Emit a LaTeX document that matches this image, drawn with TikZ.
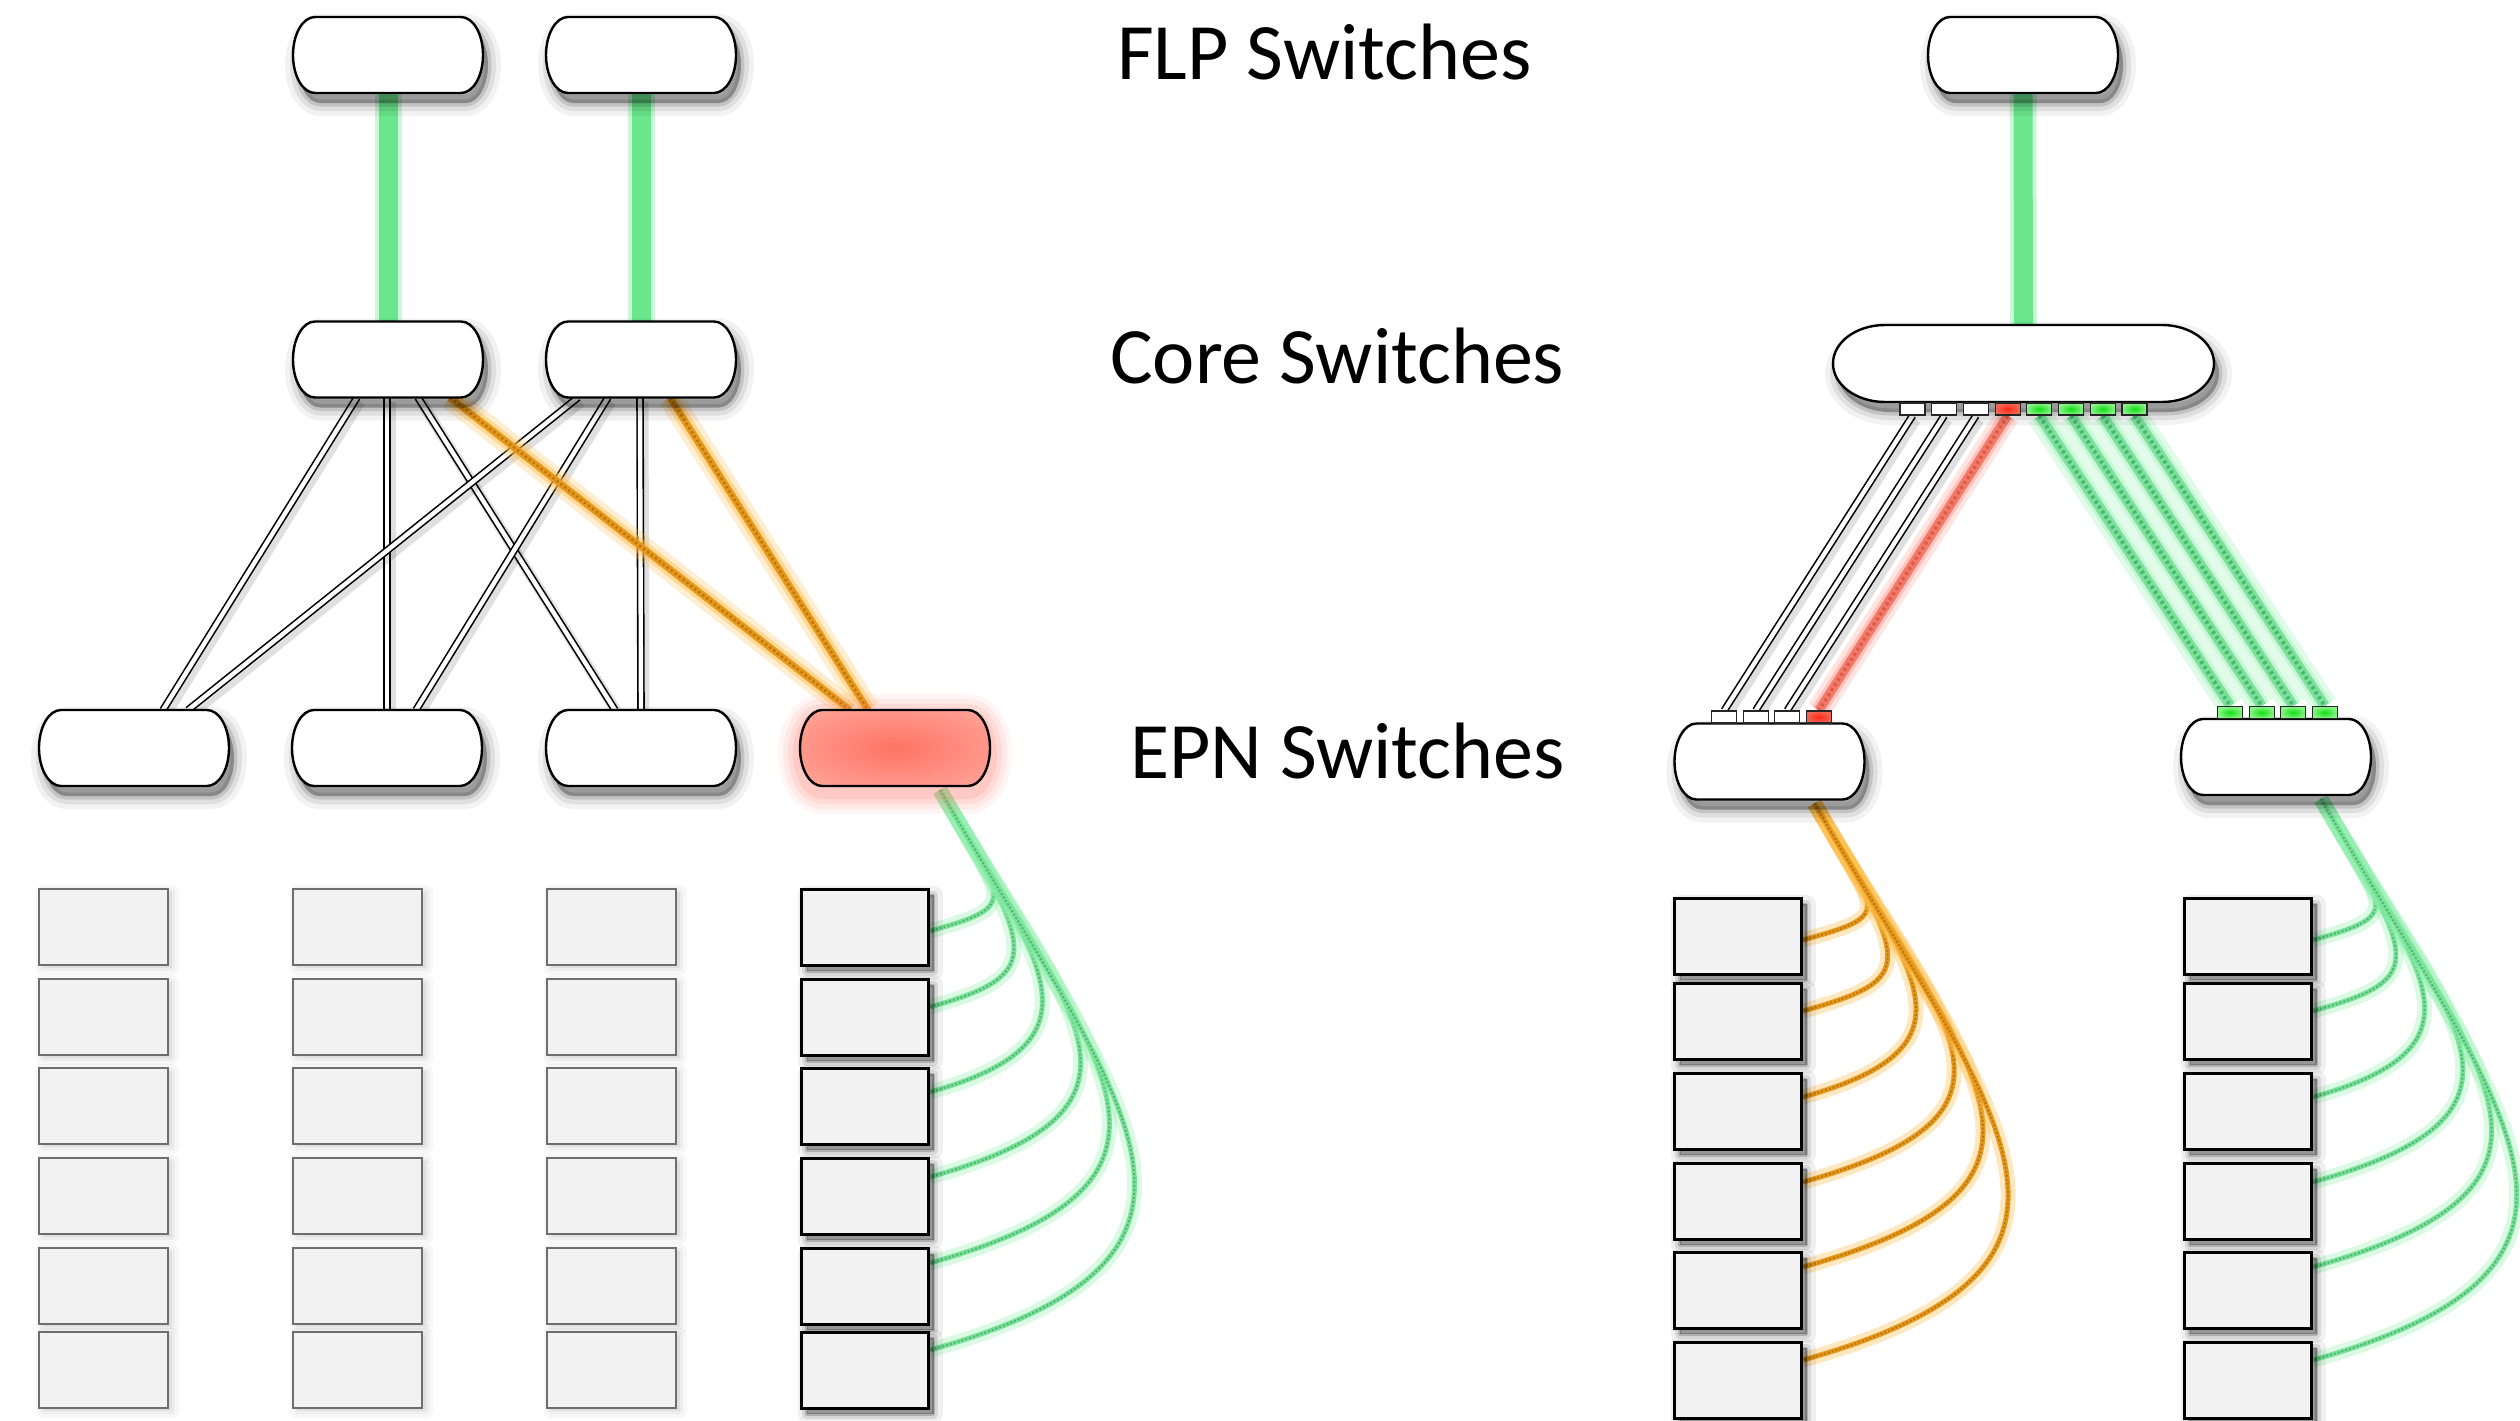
\documentclass[tikz,border=0pt]{standalone}
\usepackage{fontspec}
\setmainfont{Carlito}
\usetikzlibrary{calc}

\definecolor{uplink}{HTML}{6AE68C}
\definecolor{uplinkglow}{HTML}{A8F4BE}
\definecolor{orcore}{HTML}{E8981C}
\definecolor{ordark}{HTML}{B8780A}
\definecolor{orglow}{HTML}{FFBE4A}
\definecolor{gncore}{HTML}{7EE09C}
\definecolor{gndark}{HTML}{44BC6C}
\definecolor{gnglow}{HTML}{8AF0A8}
\definecolor{rdcore}{HTML}{F27A6A}
\definecolor{rddark}{HTML}{E05A48}
\definecolor{rdglow}{HTML}{FF7A6C}
\definecolor{srvfill}{HTML}{F2F2F2}
\definecolor{srvedge}{HTML}{6E6E6E}
\definecolor{epnhot}{HTML}{FF7464}
\definecolor{epnwarm}{HTML}{FFBAB2}
\definecolor{portgreen}{HTML}{10E010}
\definecolor{portgreenrim}{HTML}{8AF28A}
\definecolor{portred}{HTML}{FF2A12}
\definecolor{portredrim}{HTML}{F06858}

\pgfdeclarelayer{links}
\pgfdeclarelayer{top}
\pgfsetlayers{links,main,top}

\pgfdeclareradialshading{hotspot}{\pgfpoint{0bp}{0bp}}{color(0bp)=(epnhot); color(50bp)=(epnwarm)}

% switch outline with elliptic ends, drawn around a placeholder node
\newcommand\pill[3]{($(#1.north west)+(#2,0)$) -- ($(#1.north east)+(-#2,0)$)
  arc[start angle=-90, end angle=90, x radius=#2, y radius=#3]
  -- ($(#1.south west)+(#2,0)$)
  arc[start angle=90, end angle=270, x radius=#2, y radius=#3] -- cycle}

% bundle of cables from a switch to the six servers below it
\newcommand\fanout[3]{%
  \foreach \k/\a/\b/\dy in {1/129/92/4, 2/185/118/-10, 3/195/185/-14, 4/254/254/-19, 5/309/302/-23, 6/359/343/-20}{
    \draw[#3] (#1) .. controls +(0.5*\a, 0.87*\a) and +(\b, -0.28*\b) .. ($(#2\k.east)+(0,\dy)$);
  }}

\tikzset{
  hub/.style={rectangle, inner sep=0pt, outer sep=0pt, minimum width=190pt, minimum height=76pt},
  bighub/.style={hub, minimum width=381pt, minimum height=77pt},
  pillfill/.style={fill=white, draw=black, line width=2.4pt},
  pillshadow/.style={
    preaction={draw=black, draw opacity=0.05, line width=26pt, line join=round, transform canvas={xshift=5pt, yshift=-10pt}},
    preaction={draw=black, draw opacity=0.08, line width=16pt, line join=round, transform canvas={xshift=5pt, yshift=-10pt}},
    preaction={draw=black, draw opacity=0.12, line width=7pt, line join=round, transform canvas={xshift=5pt, yshift=-10pt}},
    preaction={fill=black, fill opacity=0.3, transform canvas={xshift=5pt, yshift=-10pt}}},
  lightshade/.style={
    preaction={draw=black, draw opacity=0.03, line width=14pt, line join=round, transform canvas={xshift=4pt, yshift=-3pt}},
    preaction={draw=black, draw opacity=0.04, line width=6pt, line join=round, fill=black, fill opacity=0.05, transform canvas={xshift=4pt, yshift=-3pt}}},
  darkshade/.style={
    preaction={draw=black, draw opacity=0.06, line width=18pt, line join=round, transform canvas={xshift=5pt, yshift=-6pt}},
    preaction={draw=black, draw opacity=0.10, line width=9pt, line join=round, transform canvas={xshift=5pt, yshift=-6pt}},
    preaction={draw=black, draw opacity=0.18, line width=3pt, line join=round, fill=black, fill opacity=0.3, transform canvas={xshift=5pt, yshift=-6pt}}},
  srvlight/.style={rectangle, inner sep=0pt, minimum width=129pt, minimum height=76pt, fill=srvfill, draw=srvedge, line width=2pt, lightshade},
  srvdark/.style={rectangle, inner sep=0pt, minimum width=127pt, minimum height=76pt, fill=srvfill, draw=black, line width=3pt, darkshade},
  port/.style={rectangle, inner sep=0pt, minimum width=25pt, minimum height=12pt, draw=black!85, line width=1.2pt},
  whiteport/.style={port, fill=white},
  redport/.style={port, inner color=portred, outer color=portredrim},
  greenport/.style={port, inner color=portgreen, outer color=portgreenrim},
  lbl/.style={font=\fontsize{80pt}{96pt}\selectfont, inner sep=0pt},
  dbl/.style={draw=black, line width=1.6pt, double=white, double distance=4.4pt,
    preaction={draw=black, draw opacity=0.12, line width=11pt, transform canvas={xshift=3pt, yshift=-4pt}}},
  uplinkstyle/.style={preaction={draw=uplinkglow, draw opacity=0.6, line width=27pt}, draw=uplink, line width=19pt},
  orangelink/.style={preaction={draw=orglow, draw opacity=0.25, line width=24pt},
    preaction={draw=orglow, draw opacity=0.45, line width=14pt},
    draw=orcore, line width=7pt,
    postaction={draw=ordark, line width=2.5pt, dash pattern=on 2.5pt off 2.5pt}},
  greenlink/.style={preaction={draw=gnglow, draw opacity=0.25, line width=26pt},
    preaction={draw=gnglow, draw opacity=0.3, line width=16pt},
    draw=gncore, line width=10pt,
    postaction={draw=gndark, line width=4pt, dash pattern=on 3pt off 3pt}},
  redlink/.style={preaction={draw=rdglow, draw opacity=0.2, line width=24pt},
    preaction={draw=rdglow, draw opacity=0.3, line width=15pt},
    draw=rdcore, line width=9pt,
    postaction={draw=rddark, line width=3.5pt, dash pattern=on 3pt off 3pt}},
  greenfan/.style={preaction={draw=gnglow, draw opacity=0.3, line width=15pt},
    draw=gncore, line width=5pt,
    postaction={draw=gndark, line width=2pt, dash pattern=on 2pt off 2pt}},
  orangefan/.style={preaction={draw=orglow, draw opacity=0.35, line width=15pt},
    draw=orcore, line width=5pt,
    postaction={draw=ordark, line width=2pt, dash pattern=on 2pt off 2pt}},
}

\begin{document}
\begin{tikzpicture}[x=1pt, y=-1pt]
\useasboundingbox (0,0) rectangle (2520,1421);
\begin{pgfonlayer}{links}
  \fill[white] (0,0) rectangle (2520,1421);
\end{pgfonlayer}

% ---- switch placeholders ----
\node[hub] (flp1) at (388,55) {};
\node[hub] (flp2) at (641,55) {};
\node[hub] (flp3) at (2023,55) {};
\node[hub] (core1) at (388,359.5) {};
\node[hub] (core2) at (641,359.5) {};
\node[bighub] (core3) at (2023.5,363.5) {};
\node[hub] (epn1) at (134,748) {};
\node[hub] (epn2) at (387,748) {};
\node[hub] (epn3) at (641,748) {};
\node[hub] (epn4) at (895,748) {};
\node[hub] (epn5) at (1769.5,761.5) {};
\node[hub] (epn6) at (2276,757) {};

\coordinate (epn4out) at ($(epn4.south west)+(140,4)$);
\coordinate (epn5out) at ($(epn5.south west)+(140,4)$);
\coordinate (epn6out) at ($(epn6.south west)+(140,4)$);

% ---- ports ----
\begin{pgfonlayer}{top}
  \foreach \i in {1,2,3} \node[whiteport] (cp\i) at ({2023.5+(\i-4.5)*31.7},409) {};
  \node[redport] (cp4) at ({2023.5+(4-4.5)*31.7},409) {};
  \foreach \i in {5,...,8} \node[greenport] (cp\i) at ({2023.5+(\i-4.5)*31.7},409) {};
  \foreach \i in {1,2,3} \node[whiteport] (ep\i) at ({1771.5+(\i-2.5)*31.5},717) {};
  \node[redport] (ep4) at ({1771.5+(4-2.5)*31.5},717) {};
  \foreach \i in {1,...,4} \node[greenport] (gp\i) at ({2277.5+(\i-2.5)*31.5},712.5) {};
\end{pgfonlayer}

% ---- servers ----
\foreach \c/\x in {1/103, 2/357.5, 3/611}
  \foreach \r/\y in {1/927, 2/1017, 3/1106, 4/1196, 5/1286, 6/1370}
    \node[srvlight] (s\c-\r) at (\x,\y) {};
\foreach \r/\y in {1/927, 2/1017, 3/1106, 4/1196, 5/1286, 6/1370}
  \node[srvdark] (s4-\r) at (865,\y) {};
\foreach \r/\y in {1/936, 2/1021, 3/1111, 4/1201, 5/1290, 6/1380}{
  \node[srvdark] (sa-\r) at (1738,\y) {};
  \node[srvdark] (sb-\r) at (2248,\y) {};
}

% ---- cables ----
\begin{pgfonlayer}{links}
  \draw[uplinkstyle] (flp1.south) -- (core1.north);
  \draw[uplinkstyle] (flp2.south) -- (core2.north);
  \draw[uplinkstyle] (flp3.south) -- (core3.north);

  \draw[dbl] ($(core1.south)+(-31,0)$) -- ($(epn1.north)+(29,0)$);
  \draw[dbl] ($(core1.south)+(-1,0)$) -- (epn2.north);
  \draw[dbl] ($(core1.south)+(30,0)$) -- ($(epn3.north)+(-26,0)$);
  \draw[dbl] ($(core2.south)+(-63,0)$) -- ($(epn1.north)+(54,0)$);
  \draw[dbl] ($(core2.south)+(-33,0)$) -- ($(epn2.north)+(29,0)$);
  \draw[dbl] ($(core2.south)+(-1,0)$) -- (epn3.north);
  \draw[orangelink] ($(core1.south)+(62,0)$) -- ($(epn4.north)+(-45,0)$);
  \draw[orangelink] ($(core2.south)+(29,0)$) -- ($(epn4.north)+(-27,0)$);

  \foreach \i in {1,2,3} \draw[dbl] (cp\i.south) -- (ep\i.north);
  \draw[redlink] (cp4.south) -- (ep4.north);
  \foreach \i/\j in {5/1, 6/2, 7/3, 8/4} \draw[greenlink] (cp\i.south) -- (gp\j.north);

  \fanout{epn4out}{s4-}{greenfan}
  \fanout{epn5out}{sa-}{orangefan}
  \fanout{epn6out}{sb-}{greenfan}
\end{pgfonlayer}

% ---- switch bodies ----
\foreach \n in {flp1, flp2, flp3, core1, core2, epn1, epn2, epn3, epn5, epn6}
  \path[pillfill, pillshadow] \pill{\n}{22}{38};
\path[pillfill, pillshadow] \pill{core3}{52}{38.5};

% overloaded EPN switch with its red halo
\foreach \w/\o in {44/0.07, 34/0.09, 24/0.12, 14/0.18}
  \path[draw=rdglow, draw opacity=\o, line width=\w pt, line join=round, transform canvas={yshift=-6pt}] \pill{epn4}{22}{38};
\path[shading=hotspot, draw=black, line width=2.4pt] \pill{epn4}{22}{38};

% ---- level labels ----
\node[lbl, anchor=base west] (tflp) at (1117,80) {FLP Switches};
\node[lbl, anchor=base west] (tcore) at (1110,383) {Core Switches};
\node[lbl, anchor=base west] (tepn) at (1130,778) {EPN Switches};
\end{tikzpicture}
\end{document}
